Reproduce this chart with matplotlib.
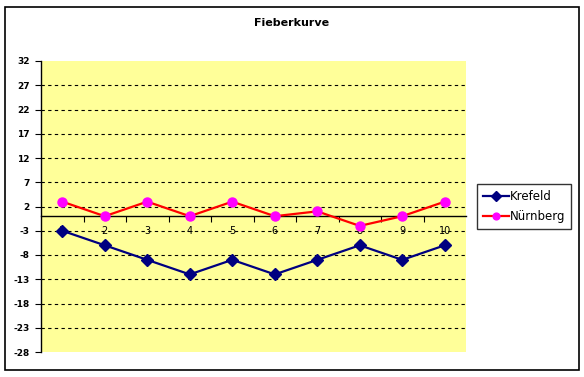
import matplotlib
matplotlib.use("Agg")
import matplotlib.pyplot as plt
from matplotlib.patches import Rectangle

categories = list(range(1, 11))
krefeld = [-3, -6, -9, -12, -9, -12, -9, -6, -9, -6]
nuernberg = [3, 0, 3, 0, 3, 0, 1, -2, 0, 3]
y_ticks = list(range(-28, 33, 5))

fig = plt.figure(figsize=(5.84, 3.77), dpi=100)
fig.patches.append(Rectangle((5 / 584, 7 / 377), 574 / 584, 363 / 377,
                             transform=fig.transFigure, fill=False,
                             edgecolor="black", linewidth=1.2))
fig.text(292 / 584, 1 - 23 / 377, "Fieberkurve", ha="center", va="center",
         fontsize=8, fontweight="bold", family="DejaVu Sans")

ax = fig.add_axes([41 / 584, 25 / 377, 425 / 584, 291 / 377])
ax.set_facecolor("#FFFF99")
ax.set_xlim(0.5, 10.5)
ax.set_ylim(-28, 32)

for y in y_ticks[1:-1]:
    ax.axhline(y, color="black", linestyle=(0, (3, 3)), linewidth=0.8, zorder=1)

ax.plot(categories, krefeld, color="#000080", linewidth=1.6, marker="D",
        markersize=6.5, markerfacecolor="#000080", markeredgecolor="#000080",
        label="Krefeld", zorder=3)
ax.plot(categories, nuernberg, color="#FF0000", linewidth=1.6, marker="o",
        markersize=6.5, markerfacecolor="#FF00FF", markeredgecolor="#FF00FF",
        label="Nürnberg", zorder=3)

for s in ["top", "right"]:
    ax.spines[s].set_visible(False)
ax.spines["bottom"].set_position(("data", 0))
ax.spines["bottom"].set_linewidth(1)
ax.spines["left"].set_linewidth(1)

ax.set_yticks(y_ticks)
ax.set_yticklabels([str(v) for v in y_ticks], fontsize=6.5, fontweight="bold")
ax.tick_params(axis="y", direction="out", length=4, pad=4)

ax.set_xticks([c + 0.5 for c in categories[:-1]])
ax.set_xticklabels([])
ax.tick_params(axis="x", direction="out", length=4)
for c in categories:
    ax.text(c, -3, str(c), ha="center", va="center", fontsize=7,
            color="black", zorder=2)

leg = fig.legend(loc="upper left", bbox_to_anchor=(477 / 584, 1 - 184 / 377),
                 frameon=True, fancybox=False, edgecolor="black",
                 fontsize=8.5, handlelength=2.2, borderpad=0.5,
                 labelspacing=0.6, handletextpad=0.1, borderaxespad=0,
                 markerscale=0.75)
leg.get_frame().set_linewidth(1)

fig.savefig("out.png", dpi=100, facecolor="white")
